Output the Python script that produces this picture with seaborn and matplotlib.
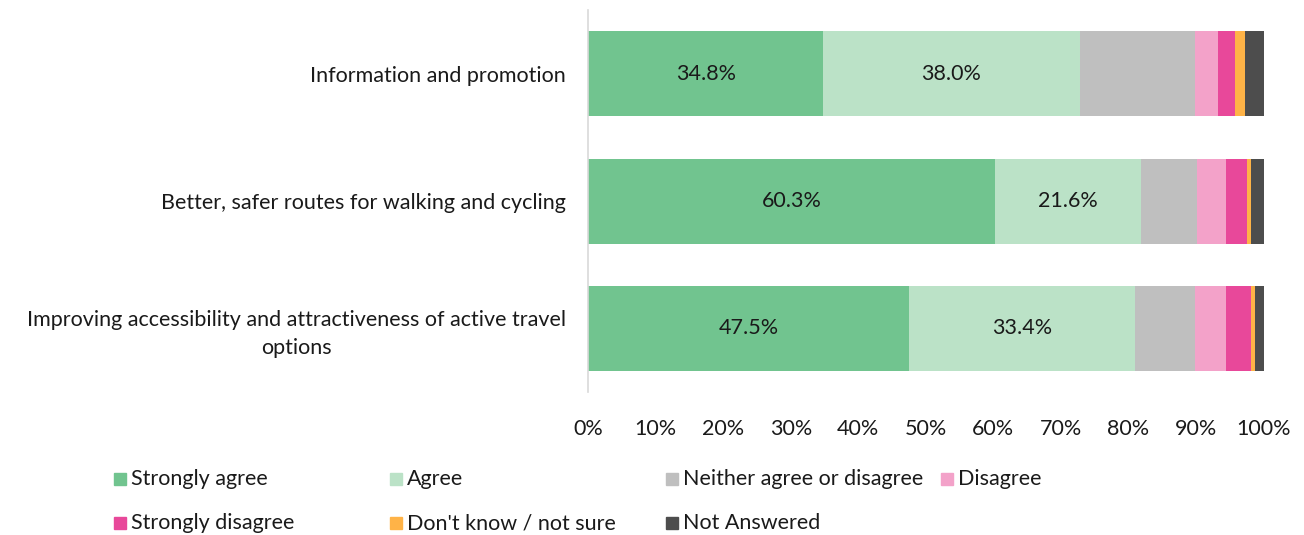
import matplotlib.pyplot as plt
import matplotlib.patches as mpatches
import seaborn as sns
import pandas as pd
import numpy as np

sns.set_theme(style="white")
plt.rcParams['font.family'] = ['Lato', 'DejaVu Sans']

# data (percent of responses)
items = ["Information and promotion",
         "Better, safer routes for walking and cycling",
         "Improving accessibility and attractiveness of active travel\noptions"]
responses = ["Strongly agree", "Agree", "Neither agree or disagree", "Disagree",
             "Strongly disagree", "Don't know / not sure", "Not Answered"]
strongly_agree = [34.8, 60.3, 47.5]
agree = [38.0, 21.6, 33.4]
neither = [17.1, 8.3, 9.0]
disagree = [3.3, 4.3, 4.6]
strongly_disagree = [2.6, 3.0, 3.6]
dont_know = [1.4, 0.6, 0.7]
not_answered = [2.8, 1.9, 1.2]
colors = ["#71C48F", "#BBE2C7", "#BFBFBF", "#F3A2C9", "#E8489A", "#FFB347", "#4D4D4D"]

vals = np.array([strongly_agree, agree, neither, disagree,
                 strongly_disagree, dont_know, not_answered])
cum = vals.cumsum(axis=0)

rows = []
for r, resp in enumerate(responses):
    for i, it in enumerate(items):
        rows.append({"item": it, "response": resp, "value": vals[r, i],
                     "cum": cum[r, i]})
df = pd.DataFrame(rows)

FS = 15.5
TXT = "#1a1a1a"

fig = plt.figure(figsize=(13.04, 5.35), dpi=100)
ax = fig.add_axes([0.451, 0.267, 0.518, 0.714])

# stacked bars: draw cumulative totals from the back
for resp, c in reversed(list(zip(responses, colors))):
    sns.barplot(data=df[df.response == resp], x="cum", y="item", order=items,
                color=c, width=0.67, orient="h", ax=ax, linewidth=0,
                saturation=1)

# percent labels for the two agree segments
for r in range(2):
    for i in range(len(items)):
        ax.text(cum[r, i] - vals[r, i] / 2, i, f"{vals[r, i]:.1f}%",
                ha="center", va="center", fontsize=FS, color=TXT)

ax.set_xlim(0, 100)
ax.set_ylim(2.5, -0.5)
ax.set_xticks(range(0, 101, 10))
ax.set_xticklabels([f"{t}%" for t in range(0, 101, 10)], fontsize=FS, color=TXT)
ax.tick_params(axis="y", labelsize=FS, pad=16, length=0, labelcolor=TXT)
ax.tick_params(axis="x", pad=19, length=0)
for lbl in ax.get_yticklabels():
    lbl.set_multialignment("center")
    lbl.set_linespacing(1.45)
ax.set_xlabel("")
ax.set_ylabel("")
sns.despine(ax=ax, top=True, right=True, bottom=True)
ax.spines["left"].set_color("#D9D9D9")
ax.spines["left"].set_linewidth(1.2)

# legend laid out like the original (two rows, four columns)
W, H = 1304, 535
leg_pos = [(114, 479), (390, 479), (666, 479), (941, 479),
           (114, 523), (390, 523), (666, 523)]
for (px, py), resp, c in zip(leg_pos, responses, colors):
    fig.add_artist(mpatches.Rectangle((px / W, 1 - (py + 6) / H), 12 / W, 12 / H,
                                      transform=fig.transFigure, color=c))
    fig.text((px + 17) / W, 1 - py / H, resp, fontsize=FS, va="center",
             ha="left", color=TXT)

fig.savefig("out.png", dpi=100)
